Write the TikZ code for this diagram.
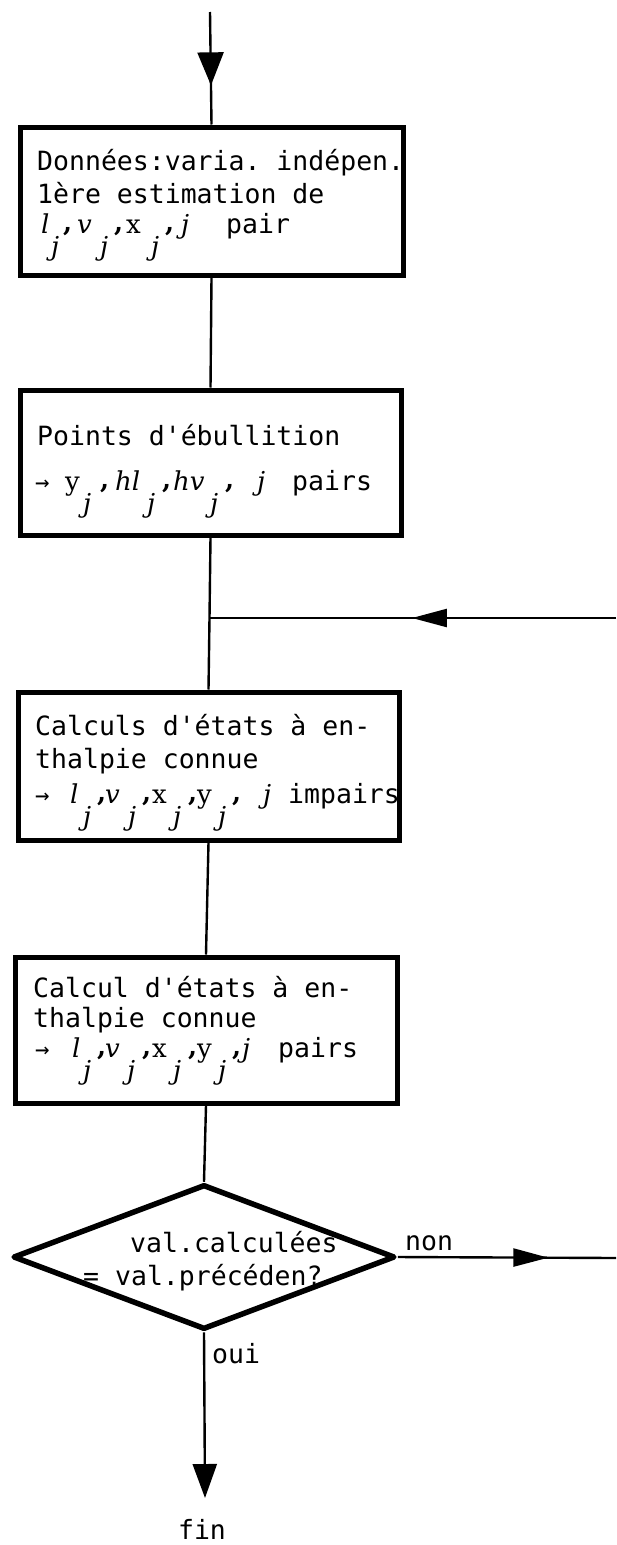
\documentclass[tikz,border=0pt]{standalone}
\usepackage{fontspec}
\setmonofont{DejaVu Sans Mono}
\newfontfamily\dvs{DejaVu Serif}
\usetikzlibrary{arrows.meta,shapes.geometric,decorations.markings}
\newcommand{\mfont}{\dvs\fontsize{26}{26}\selectfont}
\newcommand{\gT}[2]{\makebox[#1pt][l]{#2}}
\newcommand{\gI}[2]{\gT{#1}{\mfont\itshape #2}}
\newcommand{\gR}[2]{\gT{#1}{\mfont #2}}
\newcommand{\gJ}[1]{\gT{#1}{\raisebox{-22.5pt}{\mfont\itshape j}}}
\newcommand{\gC}[1]{\gT{#1}{\raisebox{2pt}{\mfont\bfseries ,}}}
\newcommand{\gA}[1]{\gT{#1}{\fontsize{24}{24}\selectfont →}}
\begin{document}
\begin{tikzpicture}[x=1pt,y=-1pt,
  box/.style={draw,line width=5pt,inner sep=0pt},
  dia/.style={draw,diamond,line width=5.5pt,line join=round,inner sep=0pt},
  txt/.style={anchor=base west,inner sep=0pt,font=\ttfamily\fontsize{26.5}{33}\selectfont},
  conn/.style={line width=2.4pt},
  vtip/.style={postaction={decorate},decoration={markings,mark=at position #1 with {\arrow{Triangle[length=33pt,width=26pt]}}}},
  htip/.style={postaction={decorate},decoration={markings,mark=at position #1 with {\arrow{Triangle[length=35pt,width=18pt]}}}}
]
\useasboundingbox (0,0) rectangle (616,1545);

% boxes
\node[box,minimum width=383pt,minimum height=148pt] (b1) at (211.5,201) {};
\node[box,minimum width=381pt,minimum height=145pt] (b2) at (210.5,462.5) {};
\node[box,minimum width=381pt,minimum height=148pt] (b3) at (208.5,766) {};
\node[box,minimum width=382pt,minimum height=146pt] (b4) at (206,1030) {};
\node[dia,minimum width=382pt,minimum height=145pt] (d) at (204,1257) {};

% texts
\node[txt] (t11) at (37,170) {Données:varia. indépen.};
\node[txt] (t12) at (37,203) {1ère estimation de};
\node[txt] (t13) at (41,233) {\gI{10}{l}\gJ{12}\gC{14}\gI{23}{v}\gJ{14}\gC{12}\gR{25}{x}\gJ{14}\gC{16}\gI{45}{j}pair};

\node[txt] (t21) at (37,445) {Points d'ébullition};
\node[txt] (t22) at (35,490) {\gA{30}\gR{18}{y}\gJ{17}\gC{15}\gI{32}{hl}\gJ{15}\gC{11}\gI{37}{hv}\gJ{15}\gC{32}\gI{35}{j}pairs};

\node[txt] (t31) at (35,735) {Calculs d'états à en-};
\node[txt] (t32) at (35,768) {thalpie connue};
\node[txt] (t33) at (35,803) {\gA{35}\gI{13}{l}\gJ{14}\gC{8}\gI{23}{v}\gJ{14}\gC{10}\gR{21}{x}\gJ{15}\gC{9}\gR{21}{y}\gJ{14}\gC{31}\gI{25}{j}impairs};

\node[txt] (t41) at (33,997) {Calcul d'états à en-};
\node[txt] (t42) at (33,1027) {thalpie connue};
\node[txt] (t43) at (35,1057) {\gA{37}\gI{11}{l}\gJ{14}\gC{8}\gI{22}{v}\gJ{15}\gC{10}\gR{21}{x}\gJ{15}\gC{9}\gR{21}{y}\gJ{14}\gC{10}\gI{36}{j}pairs};

\node[txt] (dt1) at (130,1252) {val.calculées};
\node[txt] (dt2) at (83,1285) {= val.précéden?};

\node[txt] (non) at (405,1250) {non};
\node[txt] (oui) at (212,1363) {oui};
\node[txt,anchor=base] (fin) at (202,1539) {fin};

% coordinates
\coordinate (top) at (210,12);
\coordinate (j) at (209.5,618);
\coordinate (fb) at (616,618);
\coordinate (ne) at (616,1258);
\coordinate (fe) at (205,1498);

% connectors
\draw[conn,vtip=0.652] (top) -- (b1.north);
\draw[conn] (b1.south) -- (b2.north);
\draw[conn] (b2.south) -- (j) -- (b3.north);
\draw[conn,htip=0.502] (fb) -- (j);
\draw[conn] (b3.south) -- (b4.north);
\draw[conn] (b4.south) -- (d.north);
\draw[conn,htip=0.69] (d.east) -- (ne);
\draw[conn,-{Triangle[length=34pt,width=24pt]}] (d.south) -- (fe);
\end{tikzpicture}
\end{document}
